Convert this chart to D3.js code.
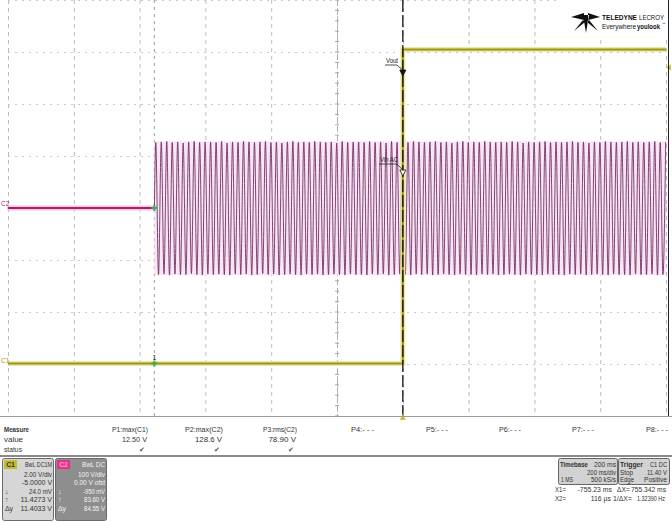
<!DOCTYPE html>
<html><head><meta charset="utf-8">
<script src="https://cdn.jsdelivr.net/npm/d3@7/dist/d3.min.js"></script>
<style>
html,body{margin:0;padding:0;background:#fff;}
svg{display:block;font-family:"Liberation Sans",Arial,sans-serif;}
</style></head><body>
<svg id="c" width="672" height="522"></svg>
<script>
// ---------- data ----------
const timeDomainMs = [-1200, 800];          // 10 div x 200 ms/div, trigger at 0
const gridDivX = [-1200,-1000,-800,-600,-400,-200,0,200,400,600,800];
const c1DomainV = [-2, 14];                 // 2 V/div, 8 div
const c2DomainV = [-400, 400];              // 100 V/div, 8 div
const c1Times = [-1200, 0, 0.1, 800];
const c1Volts = [0.024, 0.024, 12.1, 12.1];
const c2FlatTimes = [-1200, -755];
const c2FlatVolts = [0, 0];
const c2BurstStartMs = -755;
const c2HalfPeriodMs = 8.333;               // 60 Hz line
const c2Extremes = [
126,-128,127,-127,128,-129,126,-127,127,-128,125,-128,127,-126,128,-128,126,-129,127,-127,
127,-128,126,-127,128,-128,125,-129,127,-127,126,-128,128,-127,127,-129,126,-128,127,-126,
128,-128,126,-127,127,-129,125,-128,127,-127,128,-128,126,-129,127,-127,126,-128,128,-127,
127,-129,126,-128,127,-127,125,-128,128,-129,126,-127,127,-128,127,-128,126,-129,128,-127,
126,-128,127,-127,125,-129,128,-128,126,-127,127,-128,126,-129,128,-127,127,-128,126,-127,
127,-129,128,-128,126,-127,127,-128,125,-129,127,-127,128,-128,126,-128,127,-129,126,-127,
128,-128,127,-127,126,-129,127,-128,126,-127,128,-128,127,-129,125,-127,127,-128,126,-128,
127,-129,128,-127,126,-128,127,-128,126,-129,127,-127,128,-128,126,-127,127,-129,125,-128,
127,-127,126,-128,128,-129,127,-127,126,-128,127,-128,128,-129,126,-127,127,-128,126,-128,
127,-127,128,-129,126,-128,127];
const cursorX1Ms = -755.23;
const cursorX2Ms = 0.116;
const trigLevelV = 11.40;
const measureNames = ["P1:max(C1)","P2:max(C2)","P3:rms(C2)","P4:- - -","P5:- - -","P6:- - -","P7:- - -","P8:- - -"];
const measureValues = ["12.50 V","128.6 V","78.90 V","","","","",""];
const measureStatus = ["\u2714","\u2714","\u2714","","","","",""];
const c1Info = ["BwL DC1M","2.00 V/div","-5.0000 V","24.0 mV","11.4273 V","11.4033 V"];
const c2Info = ["BwL DC","100 V/div","0.00 V ofst","-950 mV","83.60 V","84.55 V"];

// ---------- helpers ----------
const svg = d3.select("#c");
function T(parent, x0, y0, s, opt){
  opt = opt||{};
  const t = parent.append("text").attr("x",x0).attr("y",y0).text(s);
  if(opt.anchor) t.attr("text-anchor",opt.anchor);
  if(opt.size) t.attr("font-size",opt.size);
  if(opt.bold) t.attr("font-weight","bold");
  if(opt.fill) t.attr("fill",opt.fill);
  if(opt.w){
    const n = t.node().getComputedTextLength();
    if(n > opt.w) t.attr("textLength",opt.w).attr("lengthAdjust","spacingAndGlyphs");
  }
  return t;
}

// ---------- layout ----------
const P = {l:8, r:666, t:0, b:416};
const x = d3.scaleLinear().domain(timeDomainMs).range([P.l, P.r]);
const y1 = d3.scaleLinear().domain(c1DomainV).range([P.b, P.t]);
const y2 = d3.scaleLinear().domain(c2DomainV).range([P.b, P.t]);
const gridY = d3.range(-4,5).map(d=>d*100);

// grid
const g = svg.append("g");
g.selectAll(".gx").data(gridDivX).join("line")
  .attr("x1",d=>x(d)+0.5).attr("x2",d=>x(d)+0.5).attr("y1",P.t).attr("y2",P.b)
  .attr("stroke","#bdbdbd").attr("stroke-width",1).attr("stroke-dasharray","4,4");
g.selectAll(".gy").data(gridY).join("line")
  .attr("y1",d=>Math.round(y2(d))+0.5).attr("y2",d=>Math.round(y2(d))+0.5).attr("x1",P.l).attr("x2",P.r)
  .attr("stroke","#c8c8c8").attr("stroke-width",1).attr("stroke-dasharray","2,5");
const cx = x(-200), cy = y2(0);
g.append("line").attr("x1",P.l).attr("x2",P.r).attr("y1",Math.round(cy)+0.5).attr("y2",Math.round(cy)+0.5).attr("stroke","#a8a8a8");
g.append("line").attr("y1",P.t).attr("y2",P.b).attr("x1",Math.round(cx)+0.5).attr("x2",Math.round(cx)+0.5).attr("stroke","#b0b0b0").attr("stroke-dasharray","6,3");
const minorX = d3.range(timeDomainMs[0], timeDomainMs[1]+1, 40);
g.selectAll(".tx").data(minorX).join("line").attr("x1",d=>x(d)).attr("x2",d=>x(d))
  .attr("y1",cy-2).attr("y2",cy+2).attr("stroke","#a8a8a8");
const minorY = d3.range(-400, 401, 20);
g.selectAll(".ty").data(minorY).join("line").attr("y1",d=>y2(d)).attr("y2",d=>y2(d))
  .attr("x1",cx-2).attr("x2",cx+2).attr("stroke","#a8a8a8");

// X1 cursor (light dashed)
svg.append("line").attr("x1",x(cursorX1Ms)).attr("x2",x(cursorX1Ms)).attr("y1",P.t).attr("y2",P.b)
  .attr("stroke","#9a9a9a").attr("stroke-dasharray","3,4");

// C2 burst
const burstPts = [[c2BurstStartMs,0]].concat(c2Extremes.map((v,i)=>[c2BurstStartMs+(i+0.5)*c2HalfPeriodMs, v]));
svg.append("rect").attr("x",x(c2BurstStartMs)).attr("width",P.r-x(c2BurstStartMs))
  .attr("y",y2(d3.max(c2Extremes))).attr("height",y2(d3.min(c2Extremes))-y2(d3.max(c2Extremes)))
  .attr("fill","#f7e6f3");
svg.append("path").datum(burstPts)
  .attr("d",d3.line().x(d=>x(d[0])).y(d=>y2(d[1])).curve(d3.curveMonotoneX))
  .attr("fill","none").attr("stroke","#6e2460").attr("stroke-width",0.85);
const flatPts = c2FlatTimes.map((t,i)=>[t,c2FlatVolts[i]]);
const l2 = d3.line().x(d=>x(d[0])).y(d=>y2(d[1]));
svg.append("path").datum(flatPts).attr("d",l2).attr("fill","none").attr("stroke","#f3c4e4").attr("stroke-width",5);
svg.append("path").datum(flatPts).attr("d",l2).attr("fill","none").attr("stroke","#a8206a").attr("stroke-width",1.8);

// C1
const c1Pts = c1Times.map((t,i)=>[t,c1Volts[i]]);
const l1 = d3.line().x(d=>x(d[0])).y(d=>y1(d[1]));
svg.append("path").datum(c1Pts).attr("d",l1).attr("fill","none").attr("stroke","#ebe8a8").attr("stroke-width",5);
svg.append("path").datum(c1Pts).attr("d",l1).attr("fill","none").attr("stroke","#9c9412").attr("stroke-width",2);

// X2 cursor (black dashed)
svg.append("line").attr("x1",x(cursorX2Ms)).attr("x2",x(cursorX2Ms)).attr("y1",P.t).attr("y2",P.b)
  .attr("stroke","#111").attr("stroke-width",1.3).attr("stroke-dasharray","12,3");

// cursor markers
[y2(0), y1(0.024)].forEach(yy=>{
  const xx=x(cursorX1Ms);
  svg.append("path").attr("d",`M${xx-3},${yy}L${xx+3},${yy}M${xx},${yy-3}L${xx},${yy+3}`).attr("stroke","#38b04a").attr("stroke-width",2);
});
T(svg, x(cursorX1Ms), y1(0.024)-3, "1", {size:7, anchor:"middle", fill:"#222"});

function tag(label, tx, ty, yy, hollow, w){
  const xx = x(cursorX2Ms);
  T(svg, tx, ty, label, {size:7, fill:"#222", w:w});
  svg.append("path").attr("d",`M${tx-1},${ty+2}L${xx-6},${ty+2}L${xx},${yy}`).attr("stroke","#222").attr("fill","none").attr("stroke-width",0.8);
  svg.append("path").attr("d",`M${xx-3},${yy}L${xx+3},${yy}L${xx},${yy+6}Z`).attr("fill",hollow?"#fff":"#111").attr("stroke","#111").attr("stroke-width",0.8);
}
tag("Vout", 386, 63, 70, false, 12);
tag("Vin AC", 380, 162, 170, true, 18);

T(svg, 1, y2(0)-2, "C2", {size:6.5, fill:"#a0306f"});
T(svg, 1, y1(0)-1, "C1", {size:6.5, fill:"#9c9412"});

// trigger markers
svg.append("path").attr("d",`M${x(0)-3},${P.b+4}L${x(0)+3},${P.b+4}L${x(0)},${P.b-2}Z`).attr("fill","#c8c23a");
svg.append("path").attr("d",`M${P.r+5},${y1(trigLevelV)-3}L${P.r+5},${y1(trigLevelV)+3}L${P.r},${y1(trigLevelV)}Z`).attr("fill","#c8c23a");

svg.append("line").attr("x1",P.r+2.5).attr("x2",P.r+2.5).attr("y1",0).attr("y2",P.b).attr("stroke","#222").attr("stroke-width",1);

// logo
const lg = svg.append("g").attr("fill","#111");
lg.append("rect").attr("x",556).attr("y",0).attr("width",111).attr("height",37).attr("fill","#fff");
lg.append("path").attr("d",
 "M571,17L584,13L584,20Z M600,17L588,13L588,20Z M583,15L589,15L586,33Z M583,20L585,22L574,31Z M589,20L587,22L598,31Z");
T(lg, 602, 20, "TELEDYNE", {size:6.8, bold:true, w:35});
T(lg, 639, 20, "LECROY", {size:7.4, w:25});
T(lg, 602, 29, "Everywhere", {size:6.6, w:34});
T(lg, 637, 29, "youlook", {size:6.4, bold:true, w:23});
T(lg, 662, 25, "\u2122", {size:3.5});

// separators
svg.append("line").attr("x1",0).attr("x2",672).attr("y1",416.5).attr("y2",416.5).attr("stroke","#9a9a9a");
svg.append("line").attr("x1",0).attr("x2",672).attr("y1",456).attr("y2",456).attr("stroke","#8a8a8a").attr("stroke-width",2);

// measure table
const mt = svg.append("g").attr("font-size",8).attr("fill","#333");
T(mt, 4, 432, "Measure", {bold:true, w:25});
T(mt, 4, 442, "value", {w:19});
T(mt, 4, 452, "status", {w:18});
const colRight = [148,223,297,374,448,521,594,668];
const nameW = [36,38,34,23,22,22,22,22];
const valW = [25,27,32];
measureNames.forEach((n,i)=>{
  T(mt, colRight[i], 432, n, {anchor:"end", w:nameW[i]});
  if(measureValues[i]) T(mt, colRight[i]-1, 442, measureValues[i], {anchor:"end", w:valW[i]});
  if(measureStatus[i]) T(mt, colRight[i]-3, 452, measureStatus[i], {anchor:"end", size:7, fill:"#555"});
});

// channel boxes
function chanBox(x0, w, bg, fg, badge, badgeFg, name, info, widths){
  const b = svg.append("g").attr("font-size",7);
  b.append("rect").attr("x",x0+0.5).attr("y",458.5).attr("width",w).attr("height",62).attr("rx",2)
   .attr("fill",bg).attr("stroke","#6a6a6a");
  b.append("rect").attr("x",x0+2).attr("y",460).attr("width",13).attr("height",9).attr("fill",badge);
  T(b, x0+8.5, 467, name, {anchor:"middle", bold:true, fill:badgeFg, w:10, size:6.8});
  const rows=[467,477,485,494,502,511];
  info.forEach((s,i)=>T(b, x0+w-1, rows[i], s, {anchor:"end", fill:fg, w:widths[i]}));
  T(b, x0+3, 494, "\u2193", {fill:fg});
  T(b, x0+3, 502, "\u2191", {fill:fg});
  T(b, x0+3, 511, "\u0394y", {fill:fg, w:8});
}
chanBox(2, 51, "#d6d6d6", "#333", "#c4bd34", "#333", "C1", c1Info, [27,28,30,23,32,32]);
chanBox(55, 51, "#8e8e8e", "#f4f4f4", "#e5328c", "#f7a8d0", "C2", c2Info, [23,27,31,22,21,21]);

// timebase / trigger
const tb = svg.append("g").attr("font-size",6.9).attr("fill","#333");
tb.append("rect").attr("x",558.5).attr("y",458.5).attr("width",59).attr("height",26).attr("rx",2).attr("fill","#d2d2d2").attr("stroke","#666");
tb.append("rect").attr("x",618.5).attr("y",458.5).attr("width",51).attr("height",26).attr("rx",2).attr("fill","#d2d2d2").attr("stroke","#666");
T(tb, 560, 467, "Timebase", {bold:true, w:28});
T(tb, 616, 467, "200 ms", {anchor:"end", w:22});
T(tb, 616, 475, "200 ms/div", {anchor:"end", w:29});
T(tb, 561, 482, "1 MS", {w:12});
T(tb, 616, 482, "500 kS/s", {anchor:"end", w:25});
T(tb, 620, 467, "Trigger", {bold:true, w:23});
T(tb, 667, 467, "C1 DC", {anchor:"end", w:17});
T(tb, 620, 475, "Stop", {w:13});
T(tb, 667, 475, "11.40 V", {anchor:"end", w:20});
T(tb, 620, 482, "Edge", {w:14});
T(tb, 667, 482, "Positive", {anchor:"end", w:23});
T(tb, 555, 492, "X1=", {w:11});
T(tb, 612, 492, "-755.23 ms", {anchor:"end", w:37});
T(tb, 617, 492, "\u0394X=", {w:13});
T(tb, 666, 492, "755.342 ms", {anchor:"end", w:35});
T(tb, 555, 501, "X2=", {w:11});
T(tb, 611, 501, "116 \u00b5s", {anchor:"end", w:21});
T(tb, 613, 501, "1/\u0394X=", {w:20});
T(tb, 665, 501, "1.32390 Hz", {anchor:"end", size:7, w:28});
</script>
</body></html>
